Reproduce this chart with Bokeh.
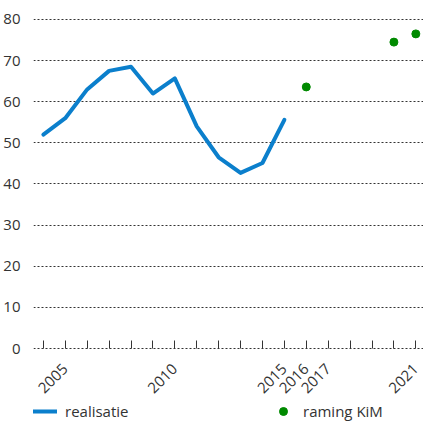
import math

from bokeh.plotting import figure
from bokeh.models import FixedTicker, Legend, LegendItem, Range1d
from bokeh.embed import file_html
from bokeh.resources import INLINE

# data
jaren_realisatie = [2004, 2005, 2006, 2007, 2008, 2009, 2010, 2011, 2012, 2013, 2014, 2015]
realisatie = [52.0, 56.0, 63.0, 67.5, 68.5, 62.0, 65.7, 54.0, 46.5, 42.7, 45.1, 55.6]
jaren_raming = [2016, 2020, 2021]
raming_kim = [63.6, 74.5, 76.5]

x_ticks = list(range(2004, 2022))
x_labels = [2005, 2010, 2015, 2016, 2017, 2021]
y_ticks = [0, 10, 20, 30, 40, 50, 60, 70, 80]

FONT = "Open Sans"
TEXT = "#333333"
BLUE = "#0b7fcc"
GREEN = "#008a00"

# the frame runs down to the bottom; the x axis sits at y = 0 and the legend below it
p = figure(width=423, height=421, output_backend="svg", toolbar_location=None,
           x_range=Range1d(2003.55, 2021.35), y_range=Range1d(-17.75, 81.7),
           min_border_left=25, min_border_right=0, min_border_top=12, min_border_bottom=0)
p.outline_line_color = None
p.background_fill_color = "white"

# grid
p.xgrid.visible = False
p.ygrid.ticker = FixedTicker(ticks=y_ticks)
p.ygrid.grid_line_color = TEXT
p.ygrid.grid_line_dash = "2 2"
p.ygrid.grid_line_width = 1

# y axis
p.yaxis.ticker = FixedTicker(ticks=y_ticks)
p.yaxis.axis_line_color = None
p.yaxis.major_tick_line_color = None
p.yaxis.minor_tick_line_color = None
p.yaxis.major_label_standoff = 7
p.yaxis.major_label_text_font = FONT
p.yaxis.major_label_text_font_size = "15px"
p.yaxis.major_label_text_color = TEXT

# x axis
p.xaxis.fixed_location = 0
p.xaxis.ticker = FixedTicker(ticks=x_ticks)
p.xaxis.major_label_overrides = {t: (str(t) if t in x_labels else "") for t in x_ticks}
p.xaxis.major_label_orientation = math.pi / 4
p.xaxis.axis_line_color = None
p.xaxis.major_tick_in = 8
p.xaxis.major_tick_out = 0
p.xaxis.major_tick_line_color = TEXT
p.xaxis.minor_tick_line_color = None
p.xaxis.major_label_standoff = 18
p.xaxis.major_label_text_font = FONT
p.xaxis.major_label_text_font_size = "15px"
p.xaxis.major_label_text_color = TEXT

# series
line = p.line(jaren_realisatie, realisatie, line_color=BLUE, line_width=4, line_cap="round",
              line_join="round")
dots = p.scatter(jaren_raming, raming_kim, size=8, fill_color=GREEN, line_color=GREEN)

legend = Legend(items=[LegendItem(label="realisatie", renderers=[line]),
                       LegendItem(label="raming KiM", renderers=[dots])],
                orientation="horizontal", location=(0, 0),
                border_line_color=None, background_fill_alpha=0,
                glyph_width=24, glyph_height=20, label_standoff=8, label_width=75,
                spacing=131, padding=0, margin=0,
                label_text_font=FONT, label_text_font_size="15px", label_text_color=TEXT)
p.add_layout(legend)

open("out.html", "w").write(file_html(p, INLINE))
